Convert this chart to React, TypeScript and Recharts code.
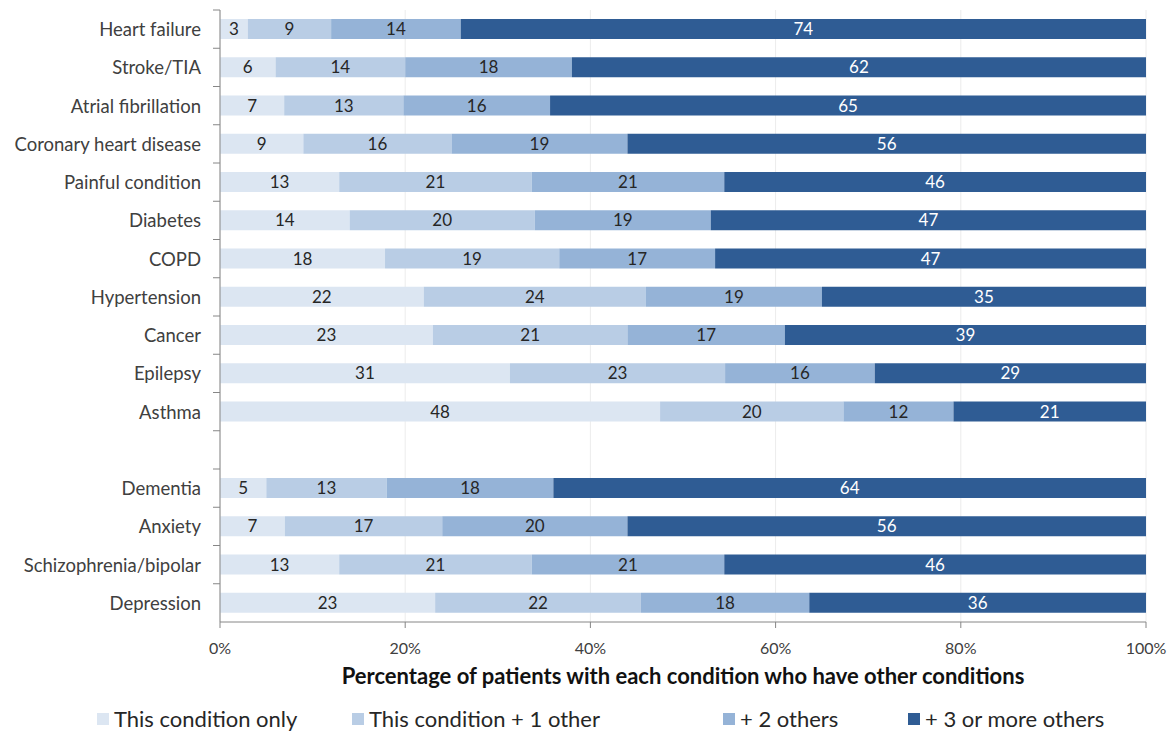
import { BarChart, Bar, XAxis, YAxis, CartesianGrid, Legend, LabelList } from 'recharts';

const conditions = [
  'Heart failure',
  'Stroke/TIA',
  'Atrial fibrillation',
  'Coronary heart disease',
  'Painful condition',
  'Diabetes',
  'COPD',
  'Hypertension',
  'Cancer',
  'Epilepsy',
  'Asthma',
  '',
  'Dementia',
  'Anxiety',
  'Schizophrenia/bipolar',
  'Depression',
];

const onlyThis = [3, 6, 7, 9, 13, 14, 18, 22, 23, 31, 48, null, 5, 7, 13, 23];
const plusOne = [9, 14, 13, 16, 21, 20, 19, 24, 21, 23, 20, null, 13, 17, 21, 22];
const plusTwo = [14, 18, 16, 19, 21, 19, 17, 19, 17, 16, 12, null, 18, 20, 21, 18];
const plusThree = [74, 62, 65, 56, 46, 47, 47, 35, 39, 29, 21, null, 64, 56, 46, 36];

const xTicks = [0, 0.2, 0.4, 0.6, 0.8, 1];

const seriesNames = ['This condition only', 'This condition + 1 other', '+ 2 others', '+ 3 or more others'];
const colors = ['#dce6f2', '#b9cde5', '#95b3d7', '#2f5c94'];
const legendX = [97, 352, 723, 908];

const W = 1169;
const H = 732;
const TOP = 10;
const PLOT_H = 612;
const BAND = PLOT_H / conditions.length;
const FONT = 'Lato, "Open Sans", sans-serif';

const data = conditions.map((name, i) => ({
  name,
  a: onlyThis[i],
  b: plusOne[i],
  c: plusTwo[i],
  d: plusThree[i],
}));

function CatTick(props: any) {
  const { x, y, payload } = props;
  return (
    <g>
      <line x1={220 - 7} x2={220} y1={y - BAND / 2} y2={y - BAND / 2} stroke="#868686" />
      <text x={x} y={y} textAnchor="end" dominantBaseline="central" fill="#404040" fontSize={18.5} fontFamily={FONT}>
        {payload.value}
      </text>
    </g>
  );
}

function LegendBox() {
  return (
    <div style={{ position: 'relative', height: 40, fontFamily: FONT, fontSize: 22, color: '#262626' }}>
      {seriesNames.map((n, i) => (
        <div
          key={n}
          style={{ position: 'absolute', left: legendX[i], top: 13, display: 'flex', alignItems: 'center', whiteSpace: 'nowrap' }}
        >
          <span style={{ width: 12, height: 12, background: colors[i], marginRight: 5, display: 'inline-block' }} />
          {n}
        </div>
      ))}
    </div>
  );
}

const fmt = (v: any) => (v == null || v === 0 ? '' : v);

export default function App() {
  const keys = ['a', 'b', 'c', 'd'];
  return (
    <div style={{ position: 'absolute', left: 0, top: 0, background: '#fff' }}>
      <BarChart
        width={W}
        height={H}
        data={data}
        layout="vertical"
        stackOffset="expand"
        barSize={20}
        margin={{ top: TOP, right: 23, bottom: 0, left: 0 }}
      >
        <CartesianGrid horizontal={false} stroke="#ececec" />
        <XAxis
          type="number"
          domain={[0, 1]}
          ticks={xTicks}
          tickFormatter={(v: number) => `${Math.round(v * 100)}%`}
          stroke="#868686"
          tick={{ fill: '#404040', fontSize: 16, fontFamily: FONT }}
          tickSize={6}
          tickMargin={15}
          height={70}
          label={{
            value: 'Percentage of patients with each condition who have other conditions',
            position: 'insideBottom',
            offset: 8,
            fill: '#111',
            fontSize: 22,
            fontWeight: 'bold',
            fontFamily: FONT,
          }}
        />
        <YAxis
          type="category"
          dataKey="name"
          width={220}
          stroke="#868686"
          tickLine={false}
          tick={<CatTick />}
          tickMargin={13}
          interval={0}
        />
        <Legend verticalAlign="bottom" content={<LegendBox />} wrapperStyle={{ height: 40 }} />
        {keys.map((k, i) => (
          <Bar key={k} dataKey={k} name={seriesNames[i]} stackId="s" fill={colors[i]} isAnimationActive={false}>
            <LabelList
              dataKey={k}
              position="center"
              formatter={fmt}
              fill={i === 3 ? '#ffffff' : '#262626'}
              fontSize={17}
              fontFamily={FONT}
            />
          </Bar>
        ))}
      </BarChart>
    </div>
  );
}
